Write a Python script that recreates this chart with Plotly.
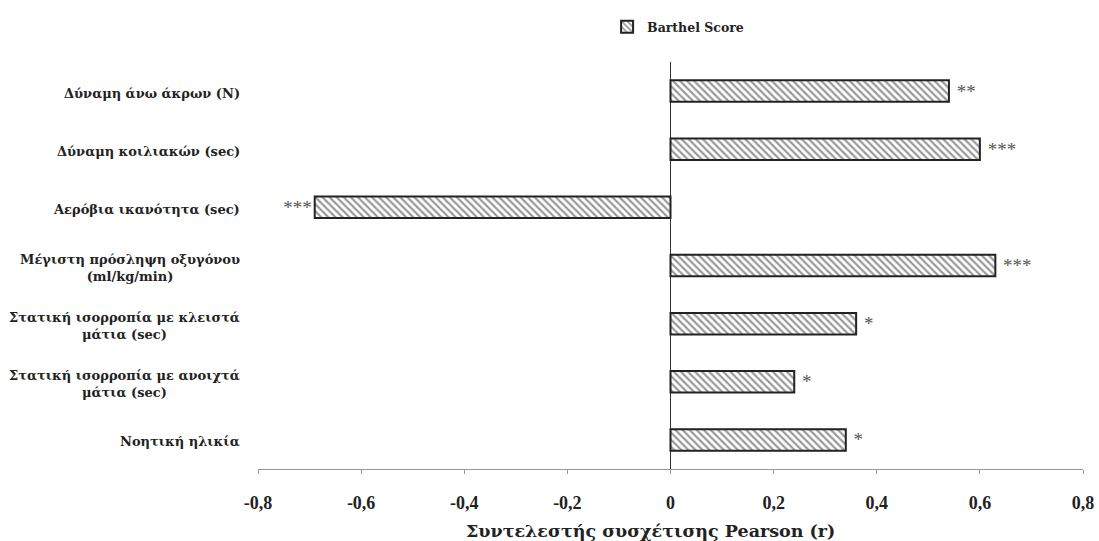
import plotly.graph_objects as go

categories = [
    "Δύναμη άνω άκρων (N)",
    "Δύναμη κοιλιακών (sec)",
    "Αερόβια ικανότητα (sec)",
    "Μέγιστη πρόσληψη οξυγόνου<br>(ml/kg/min)",
    "Στατική ισορροπία με κλειστά<br>μάτια (sec)",
    "Στατική ισορροπία με ανοιχτά<br>μάτια (sec)",
    "Νοητική ηλικία",
]
values = [0.54, 0.60, -0.69, 0.63, 0.36, 0.24, 0.34]
stars = ["**", "***", "***", "***", "*", "*", "*"]
x_ticks = [-0.8, -0.6, -0.4, -0.2, 0, 0.2, 0.4, 0.6, 0.8]
x_tick_labels = ["-0,8", "-0,6", "-0,4", "-0,2", "0", "0,2", "0,4", "0,6", "0,8"]
x_title = "Συντελεστής συσχέτισης Pearson (r)"
series_name = "Barthel Score"

serif = "Liberation Serif, Times New Roman, serif"
wide_serif = "DejaVu Serif, serif"

fig = go.Figure()
fig.add_trace(go.Bar(
    y=categories,
    x=values,
    orientation="h",
    name="<b>" + series_name + "</b>",
    width=0.37,
    marker=dict(
        color="white",
        line=dict(color="#222222", width=2),
        pattern=dict(shape="\\", fgcolor="#333333", bgcolor="white", size=5, solidity=0.45),
    ),
    text=[" " + s for s in stars],
    textposition="outside",
    textfont=dict(family=serif, size=19, color="#555555"),
    cliponaxis=False,
))

# y labels as centered multi-line annotations
for c in categories:
    fig.add_annotation(
        x=0, xref="paper", xshift=-16, y=c, yref="y", yshift=-2,
        text="<b>" + c + "</b>", showarrow=False,
        xanchor="right", align="center",
        font=dict(family=wide_serif, size=13, color="#222222"),
    )

# x axis title (slightly left of the plot centre, as in the original)
fig.add_annotation(
    x=0.5, xref="paper", xshift=-20, y=0, yref="paper", yshift=-50,
    text="<b>" + x_title + "</b>", showarrow=False,
    xanchor="center", yanchor="top",
    font=dict(family=wide_serif, size=17.5, color="#222222"),
)

fig.update_layout(
    width=1099, height=541,
    margin=dict(l=258, r=16, t=62, b=72, autoexpand=False),
    plot_bgcolor="white", paper_bgcolor="white",
    showlegend=True,
    legend=dict(
        orientation="h", x=0.617, xanchor="center", xref="container",
        y=0.95, yref="container", yanchor="middle",
        font=dict(family=wide_serif, size=12.5, color="#222222"),
    ),
    xaxis=dict(
        range=[-0.8, 0.8],
        tickvals=x_ticks,
        ticktext=["<b>" + t + "</b>" for t in x_tick_labels],
        tickfont=dict(family=serif, size=18, color="#222222"),
        ticklabelstandoff=13,
        showgrid=False,
        zeroline=True, zerolinecolor="#333333", zerolinewidth=1,
        showline=True, linecolor="#999999", linewidth=1,
        ticks="outside", ticklen=4, tickcolor="#999999",
    ),
    yaxis=dict(
        range=[6.5, -0.5], autorange=False,
        showticklabels=False,
        showgrid=False, zeroline=False, showline=False,
    ),
)

fig.write_html(
    "out.html",
    config={"displayModeBar": False},
    post_script="document.body.style.margin='0';document.body.style.overflow='hidden';",
)
